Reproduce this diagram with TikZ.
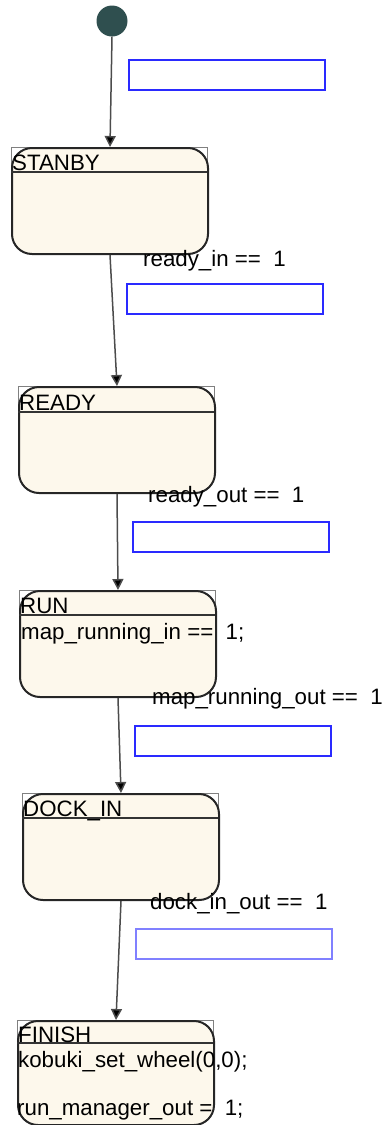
\documentclass[tikz,border=0pt]{standalone}
\usepackage{fontspec}
\setmainfont{Liberation Sans}
\usetikzlibrary{arrows.meta}
\definecolor{cream}{HTML}{FDF8EC}
\definecolor{initc}{HTML}{2F4F4F}
\definecolor{guardblue}{HTML}{2A2AFF}
\definecolor{guardlight}{HTML}{8080FF}
\begin{document}
\begin{tikzpicture}[x=1pt,y=-1pt,
  statebox/.style={draw=black!85, line width=2pt, fill=cream, rounded corners=20pt,
    minimum width=196pt, minimum height=106pt, anchor=north west, inner sep=0pt},
  framebox/.style={draw=black!50, line width=0.8pt},
  sepline/.style={draw=black!80, line width=1.2pt},
  guard/.style={draw=guardblue, line width=1.6pt, minimum width=196pt, minimum height=30pt,
    anchor=north west, inner sep=0pt},
  lbl/.style={anchor=base west, inner sep=0pt, font=\fontsize{22.3}{26}\selectfont},
  trans/.style={draw=black!70, line width=1.5pt, -{Triangle[length=11pt,width=11pt,fill=black]}}
]
\useasboundingbox (0,0) rectangle (386,1125);

% initial state
\node[circle, fill=initc, minimum size=31pt, inner sep=0pt] (init) at (112,21) {};

% title frames
\draw[framebox] (11,147) rectangle (207,172);
\draw[framebox] (18,386) rectangle (214,412);
\draw[framebox] (19,590) rectangle (215,615);
\draw[framebox] (22,793) rectangle (218,818);
\draw[framebox] (17,1020) rectangle (213,1043);

% states
\node[statebox] (stanby) at (11,147) {};
\node[statebox] (ready) at (18,386) {};
\node[statebox] (run) at (19,590) {};
\node[statebox] (dockin) at (22,793) {};
\node[statebox, minimum height=104pt] (finish) at (17,1020) {};

% separators
\draw[sepline] (11,172) -- (207,172);
\draw[sepline] (18,412) -- (214,412);
\draw[sepline] (19,615) -- (215,615);
\draw[sepline] (22,818) -- (218,818);
\draw[sepline] (17,1043) -- (213,1043);

% state names
\node[lbl] (tstanby) at (12,170) {STANBY};
\node[lbl] (tready) at (19,410) {READY};
\node[lbl] (trun) at (20,613) {RUN};
\node[lbl] (tdockin) at (23,816) {DOCK\_IN};
\node[lbl] (tfinish) at (18,1042) {FINISH};

% state actions
\node[lbl] (arun) at (21,639) {map\_running\_in ==\ \ 1;};
\node[lbl] (afin1) at (18,1067) {kobuki\_set\_wheel(0,0);};
\node[lbl] (afin2) at (17,1115) {run\_manager\_out =\ \ 1;};

% guard labels
\node[lbl] (l1) at (143,266) {ready\_in ==\ \ 1};
\node[lbl] (l2) at (148,502) {ready\_out ==\ \ 1};
\node[lbl] (l3) at (152,704) {map\_running\_out ==\ \ 1};
\node[lbl] (l4) at (150,909) {dock\_in\_out ==\ \ 1};

% action boxes
\node[guard] (g0) at (128,59) {};
\node[guard] (g1) at (126,283) {};
\node[guard] (g2) at (132,521) {};
\node[guard] (g3) at (134,725) {};
\node[guard, draw=guardlight] (g4) at (135,928) {};

% transitions
\draw[trans] (init.south) -- (stanby.north);
\draw[trans] (stanby.south) -- (ready.north);
\draw[trans] (ready.south) -- (run.north);
\draw[trans] (run.south) -- (dockin.north);
\draw[trans] (dockin.south) -- (finish.north);
\end{tikzpicture}
\end{document}
